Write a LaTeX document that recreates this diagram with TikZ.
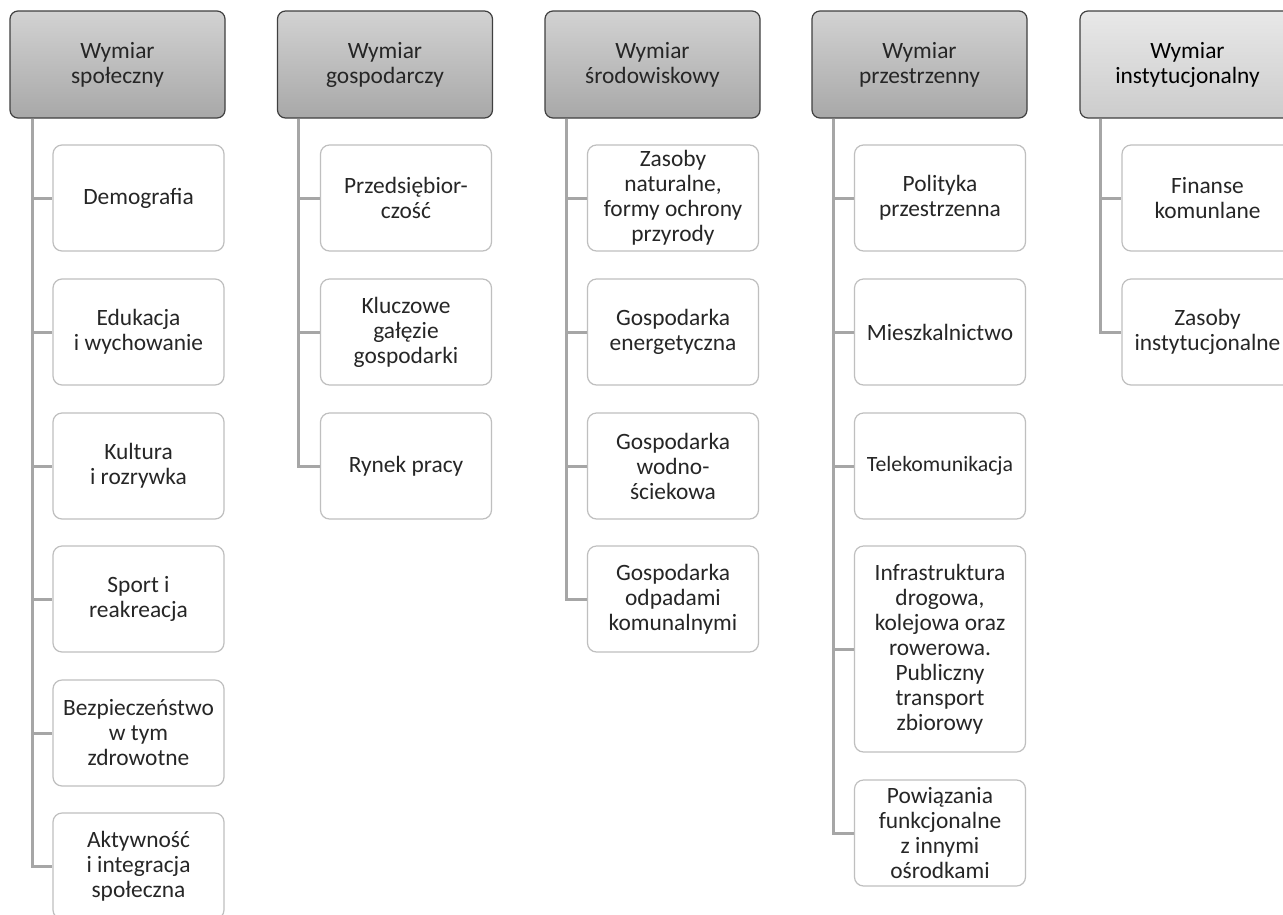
\documentclass[tikz,border=0pt]{standalone}
\usepackage{fontspec}
\setmainfont{Carlito}
\definecolor{txt}{HTML}{262626}
\definecolor{hborder}{HTML}{404040}
\definecolor{cborder}{HTML}{BFBFBF}
\definecolor{conncol}{HTML}{A6A6A6}
\definecolor{htop}{HTML}{D2D2D2}
\definecolor{hbot}{HTML}{A8A8A8}
\definecolor{htopl}{HTML}{E8E8E8}
\definecolor{hbotl}{HTML}{CCCCCC}
\begin{document}
\begin{tikzpicture}[x=1pt,y=-1pt,
  header/.style={draw=hborder, line width=1.2pt, rounded corners=8pt,
    top color=htop, bottom color=hbot, minimum width=215pt, minimum height=107pt,
    inner sep=0pt, align=center, text=txt, font=\fontsize{23.4}{25}\selectfont},
  lightheader/.style={header, top color=htopl, bottom color=hbotl, text=black},
  child/.style={draw=cborder, line width=1.2pt, rounded corners=9pt, fill=white,
    minimum width=171pt, minimum height=106pt, inner sep=0pt, align=center,
    text=txt, font=\fontsize{23.4}{25}\selectfont},
  conn/.style={draw=conncol, line width=3pt}]
\useasboundingbox (0,0) rectangle (1283,914);
\fill[white] (0,0) rectangle (1283,914);

% Column 1
\node[header] (h1) at (117.5,64.5) {Wymiar\\społeczny};
\node[child] (c11) at (138.5,198) {Demografia};
\node[child] (c12) at (138.5,332) {Edukacja\\i wychowanie};
\node[child] (c13) at (138.5,466) {Kultura\\i rozrywka};
\node[child] (c14) at (138.5,599) {Sport i\\reakreacja};
\node[child] (c15) at (138.5,733) {Bezpieczeństwo\\w tym\\zdrowotne};
\node[child] (c16) at (138.5,866) {Aktywność\\i integracja\\społeczna};

% Column 2
\node[header] (h2) at (385,64.5) {Wymiar\\gospodarczy};
\node[child] (c21) at (406,198) {Przedsiębior-\\czość};
\node[child] (c22) at (406,332) {Kluczowe\\gałęzie\\gospodarki};
\node[child] (c23) at (406,466) {Rynek pracy};

% Column 3
\node[header] (h3) at (652.5,64.5) {Wymiar\\środowiskowy};
\node[child] (c31) at (673,198) {Zasoby\\naturalne,\\formy ochrony\\przyrody};
\node[child] (c32) at (673,332) {Gospodarka\\energetyczna};
\node[child] (c33) at (673,466) {Gospodarka\\wodno-\\ściekowa};
\node[child] (c34) at (673,599) {Gospodarka\\odpadami\\komunalnymi};

% Column 4
\node[header] (h4) at (919.5,64.5) {Wymiar\\przestrzenny};
\node[child] (c41) at (940,198) {Polityka\\przestrzenna};
\node[child] (c42) at (940,332) {Mieszkalnictwo};
\node[child, font=\fontsize{21.8}{24}\selectfont] (c43) at (940,466) {Telekomunikacja};
\node[child, minimum height=206pt] (c44) at (940,649) {Infrastruktura\\drogowa,\\kolejowa oraz\\rowerowa.\\Publiczny\\transport\\zbiorowy};
\node[child] (c45) at (940,833) {Powiązania\\funkcjonalne\\z innymi\\ośrodkami};

% Column 5
\node[lightheader] (h5) at (1187.5,64.5) {Wymiar\\instytucjonalny};
\node[child] (c51) at (1207.5,198) {Finanse\\komunlane};
\node[child] (c52) at (1207.5,332) {Zasoby\\instytucjonalne};

% Connectors
\foreach \c in {c11,c12,c13,c14,c15,c16}
  \draw[conn] ([xshift=23pt]h1.south west) |- (\c.west);
\foreach \c in {c21,c22,c23}
  \draw[conn] ([xshift=22pt]h2.south west) |- (\c.west);
\foreach \c in {c31,c32,c33,c34}
  \draw[conn] ([xshift=22pt]h3.south west) |- (\c.west);
\foreach \c in {c41,c42,c43,c44,c45}
  \draw[conn] ([xshift=22pt]h4.south west) |- (\c.west);
\foreach \c in {c51,c52}
  \draw[conn] ([xshift=21pt]h5.south west) |- (\c.west);
\end{tikzpicture}
\end{document}
